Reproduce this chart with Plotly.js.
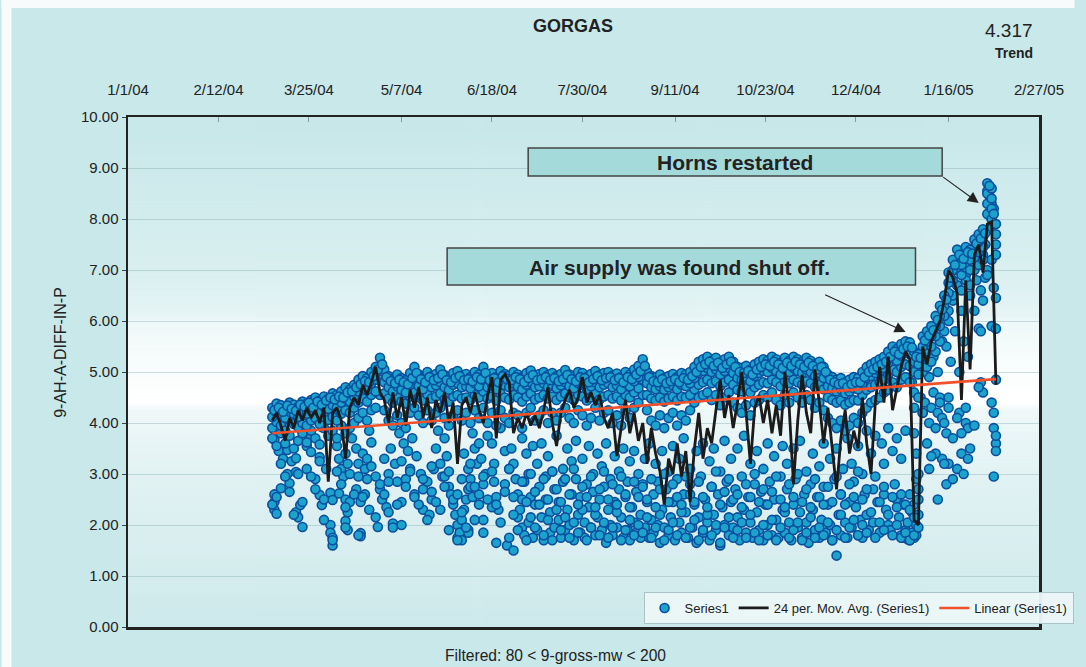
<!DOCTYPE html>
<html><head><meta charset="utf-8">
<script src="https://cdn.plot.ly/plotly-3.0.1.min.js"></script>
<style>html,body{margin:0;padding:0;background:#fff;}#chart{width:1086px;height:667px;}</style>
</head><body><div id="chart"></div>
<script>
// ---- X axis: days since 1/1/04 ----
const tickLabels = ['1/1/04','2/12/04','3/25/04','5/7/04','6/18/04','7/30/04','9/11/04','10/23/04','12/4/04','1/16/05','2/27/05'];
const tickDays   = [0, 42, 84, 127, 169, 211, 254, 296, 338, 381, 423];

// ---- Series1: readings sampled every 2 days from day 67 (3/8/04); null = no reading ----
const BAND_START = 67, CREST_START = 68, BAND_STEP = 2;
const bandTop = [
 4.30,4.38,4.35,4.28,4.40,4.36,4.32,
 4.42,4.38,4.45,4.50,4.44,4.52,4.48,
 4.58,4.55,4.62,4.70,4.66,4.75,
 4.85,4.92,4.88,5.00,5.10,
 5.28,
 5.05,4.92,4.86,4.95,4.88,4.84,4.98,5.10,
 4.95,4.90,5.00,4.92,4.96,5.05,4.94,4.90,4.98,5.02,4.93,4.96,4.90,
 5.00,4.95,5.10,4.92,4.98,4.90,5.02,4.96,4.93,5.00,4.95,4.90,4.98,5.03,4.92,4.96,5.00,4.94,4.98,4.92,
 4.96,5.04,4.95,4.92,5.00,4.98,4.90,4.96,5.02,4.94,4.98,5.00,4.93,4.97,4.90,5.00,4.95,5.05,5.12,
 5.25,
 5.00,4.92,4.90,4.95,4.88,4.92,4.96,4.90,4.98,4.95,5.00,
 5.10,5.20,5.25,5.30,5.22,5.28,5.18,5.25,5.30,5.20,
 5.10,5.08,5.12,5.05,5.15,5.20,5.25,
 5.22,5.30,5.25,5.18,5.28,5.22,5.30,5.25,5.20,5.28,5.22,5.15,5.20,5.10,
 4.95,4.90,4.85,4.88,4.80,4.85,4.90,4.88,
 5.00,5.10,5.15,5.20,5.25,5.30,
 5.40,5.50,5.45,5.55,5.60,5.58,
 5.40,5.35,
 5.70,5.80,5.90,
 6.10,6.30,6.50,
 6.95,7.20,7.40,
 7.30,7.45,7.40,7.60,
 7.70,7.80,
 8.70,8.60,7.90];
// crest readings: the in-between days (from day 68)
const bandCrest = [
 4.25,4.30,4.22,4.34,4.28,4.24,4.36,
 4.32,4.40,4.30,4.42,4.36,4.44,4.50,
 4.46,4.52,4.50,4.60,4.62,4.70,
 4.76,4.82,4.80,4.92,5.05,
 5.15,
 4.90,4.82,4.78,4.85,4.80,4.76,4.88,4.98,
 4.86,4.80,4.90,4.84,4.88,4.95,4.84,4.80,4.88,4.92,4.84,4.86,4.82,
 4.90,4.86,4.98,4.84,4.88,4.80,4.92,4.86,4.84,4.90,4.86,4.80,4.88,4.94,4.84,4.86,4.90,4.84,4.88,4.82,
 4.86,4.94,4.86,4.82,4.90,4.88,4.80,4.86,4.92,4.84,4.88,4.90,4.84,4.88,4.80,4.90,4.86,4.95,5.02,
 5.12,
 4.90,4.82,4.80,4.86,4.78,4.82,4.86,4.80,4.88,4.85,4.92,
 5.00,5.10,5.15,5.20,5.12,5.18,5.08,5.15,5.20,5.10,
 5.00,4.98,5.02,4.95,5.05,5.10,5.15,
 5.12,5.20,5.15,5.08,5.18,5.12,5.20,5.15,5.10,5.18,5.12,5.05,5.10,5.00,
 4.85,4.80,4.76,4.78,4.70,4.76,4.80,4.80,
 4.90,5.00,5.05,5.10,5.15,5.20,
 5.30,5.40,5.35,5.45,5.50,5.48,
 5.30,5.28,
 5.62,5.72,5.82,
 6.02,6.22,6.42,
 6.85,7.10,7.30,
 7.22,7.35,7.32,7.52,
 7.62,7.72,
 8.65,8.10];
const bandMid = [
 4.12,4.20,4.15,4.10,4.22,4.18,4.12,
 4.22,4.18,4.25,4.30,4.20,4.32,4.28,
 4.35,4.30,4.40,4.48,4.42,4.52,
 4.62,4.70,4.65,4.78,4.85,
 5.05,
 4.80,4.70,4.62,4.72,4.65,4.60,4.75,4.85,
 4.72,4.66,4.78,4.70,4.74,4.80,4.70,4.65,4.75,4.78,4.70,4.72,4.68,
 4.78,4.72,4.85,4.70,4.75,4.66,4.80,4.74,4.70,4.78,4.72,4.66,4.75,4.80,4.70,4.72,4.78,4.70,4.75,4.68,
 4.74,4.80,4.72,4.68,4.78,4.75,4.66,4.72,4.80,4.70,4.75,4.78,4.70,4.74,4.66,4.78,4.72,4.82,4.90,
 5.05,
 4.78,4.70,4.66,4.72,4.65,4.70,4.74,4.66,4.75,4.72,4.78,
 4.88,4.98,5.02,5.08,5.00,5.05,4.95,5.02,5.08,4.98,
 4.88,4.85,4.90,4.82,4.92,4.98,5.02,
 5.00,5.08,5.02,4.95,5.05,5.00,5.08,5.02,4.98,5.05,5.00,4.92,4.98,4.88,
 4.72,4.68,4.62,4.66,4.58,4.62,4.68,4.66,
 4.78,4.88,4.92,4.98,5.02,5.08,
 5.18,5.28,5.22,5.32,5.38,5.35,
 5.20,5.15,
 5.50,5.60,5.70,
 5.90,6.10,6.30,
 6.75,7.00,7.20,
 7.10,7.25,7.20,7.45,
 7.55,7.65,
 8.50,8.40,7.70];
const bandLow = [
 3.90,4.02,3.95,3.85,4.05,3.98,3.92,
 4.00,3.95,4.05,4.10,3.98,4.12,4.06,
 4.12,4.05,4.18,4.25,4.20,4.30,
 4.40,4.48,4.42,4.55,4.62,
 4.85,
 4.58,4.48,4.40,4.50,4.42,4.38,4.52,4.62,
 4.50,4.44,4.56,4.48,4.52,4.58,4.46,4.42,4.52,4.55,4.48,4.50,4.45,
 4.55,4.50,4.62,4.48,4.52,4.44,4.58,4.50,4.46,4.55,4.50,4.42,4.52,4.58,4.46,4.50,4.55,4.48,4.52,4.45,
 4.52,4.58,4.50,4.45,4.55,4.52,4.44,4.50,4.58,4.46,4.52,4.55,4.48,4.52,4.44,4.55,4.50,4.60,4.68,
 4.85,
 4.55,4.48,4.44,4.50,4.42,4.48,4.52,4.44,4.52,4.50,4.55,
 4.66,4.75,4.80,4.85,4.78,4.82,4.72,4.80,4.85,4.75,
 4.65,4.62,4.68,4.60,4.70,4.75,4.80,
 4.78,4.85,4.80,4.72,4.82,4.78,4.85,4.80,4.75,4.82,4.78,4.70,4.75,4.66,
 4.50,4.45,4.40,4.44,4.36,4.40,4.45,4.44,
 4.55,4.65,4.70,4.75,4.80,4.85,
 4.95,5.05,5.00,5.10,5.15,5.12,
 5.00,4.95,
 5.30,5.40,5.50,
 5.70,5.90,6.10,
 6.55,6.80,7.00,
 6.90,7.05,7.00,7.25,
 7.35,7.45,
 8.30,8.20,7.50];
const bandSub = [
 3.70,3.55,3.80,3.60,3.75,3.50,3.65,
 3.80,3.62,3.85,3.70,3.58,3.90,3.75,
 3.85,3.70,3.95,3.80,3.90,4.00,
 4.10,4.20,4.05,4.25,4.30,
 4.55,
 4.25,4.05,3.95,4.15,4.00,3.90,4.20,4.30,
 4.15,4.00,4.25,4.05,4.20,4.30,4.10,3.95,4.15,4.25,4.05,4.20,4.00,
 4.25,4.10,4.30,4.00,4.20,3.95,4.25,4.10,4.00,4.20,4.15,3.90,4.20,4.30,4.05,4.15,4.25,4.00,4.20,4.05,
 4.20,4.30,4.10,4.00,4.25,4.15,3.95,4.10,4.30,4.05,4.20,4.25,4.00,4.15,3.95,4.25,4.10,4.30,4.40,
 4.55,
 4.25,4.05,3.95,4.15,3.90,4.10,4.20,3.95,4.15,4.05,4.25,
 4.40,4.50,4.55,4.60,4.45,4.55,4.35,4.50,4.60,4.40,
 4.30,4.20,4.35,4.15,4.40,4.45,4.55,
 4.50,4.60,4.45,4.35,4.55,4.40,4.60,4.50,4.40,4.55,4.45,4.30,4.40,4.25,
 4.10,4.00,3.90,4.05,3.85,3.95,4.10,4.00,
 4.20,4.30,4.40,4.45,4.50,4.60,
 4.65,4.80,4.70,4.85,4.90,4.80,
 4.60,4.50,
 5.00,5.10,5.20,
 5.40,5.60,5.80,
 6.20,6.50,6.70,
 6.60,6.80,6.70,7.00,
 7.10,7.20,
 8.10,8.00,7.30];
const floorA = [
 2.40,null,null,2.95,null,2.20,null,
 null,3.10,null,2.70,null,2.10,null,
 1.70,null,2.80,1.95,null,2.60,
 1.80,null,2.90,null,2.15,
 null,
 2.60,null,1.95,null,2.45,null,3.05,null,
 2.40,null,2.10,2.65,null,2.30,2.95,1.90,2.50,1.70,2.25,1.95,2.75,
 2.10,2.60,1.85,null,2.35,1.65,2.05,2.80,1.75,2.20,1.90,2.50,1.70,2.15,1.95,2.40,1.80,2.10,1.70,2.30,
 1.90,2.15,1.75,2.05,1.85,2.30,1.70,1.95,2.20,1.80,2.05,1.75,1.95,2.25,1.70,1.90,2.10,1.80,2.00,
 1.85,
 2.15,1.75,1.95,2.20,1.70,1.90,2.05,1.80,2.25,1.75,1.95,
 2.10,1.70,1.90,2.20,1.80,2.00,1.65,1.95,2.15,1.75,
 1.90,2.05,1.75,2.20,1.85,1.70,2.00,
 1.80,2.10,1.70,1.95,2.25,1.75,1.90,2.05,1.70,1.85,2.15,1.75,1.95,1.80,
 2.05,1.70,1.90,2.20,1.75,1.95,2.10,1.80,
 2.00,1.85,2.25,1.75,2.05,1.90,
 2.20,1.80,2.00,1.75,1.85,1.70,
 1.80,1.95,
 null,3.60,null,
 3.40,null,4.00,
 null,3.70,null,
 3.80,null,3.50,null,
 null,null,
 null,null,3.75];
const floorB = [
 null,2.55,3.20,null,2.65,null,3.00,
 2.45,null,2.95,null,3.25,2.50,null,
 null,3.05,null,2.35,3.00,null,
 2.95,2.55,null,3.15,null,
 2.80,
 null,2.85,null,2.40,null,2.75,null,2.55,
 null,2.90,null,3.15,2.45,null,2.75,3.05,null,2.60,2.90,null,3.20,
 2.75,null,2.95,2.50,3.05,2.40,null,2.65,3.10,2.55,null,2.85,2.45,3.00,2.65,null,2.90,2.50,3.05,2.70,
 2.45,2.90,2.60,3.10,2.40,2.75,2.55,2.95,2.35,2.70,3.05,2.50,2.80,2.40,2.95,2.60,2.35,2.85,2.55,
 2.75,
 2.50,2.90,2.35,2.70,3.00,2.45,2.80,2.55,2.40,2.95,2.60,
 2.45,2.85,2.55,2.35,2.75,3.05,2.40,2.65,2.90,2.50,
 2.60,2.35,2.80,2.55,3.00,2.45,2.70,
 2.40,2.65,2.95,2.50,2.35,2.80,2.55,3.00,2.45,2.70,2.35,2.90,2.55,2.40,
 2.75,2.45,2.95,2.60,2.40,2.80,2.55,3.05,
 2.50,2.70,null,2.95,2.45,2.75,
 null,2.55,2.35,2.60,2.40,2.30,
 2.15,2.50,
 4.20,null,3.35,
 null,4.40,3.20,
 4.50,null,4.10,
 null,4.30,null,3.95,
 4.70,6.40,
 6.90,7.20,null];

// ---- Series1: scattered low readings [day, value] ----
const lowMarApr = [[68,3.67],[68,2.60],[68,2.45],[68,2.30],[69,2.22],[70,3.45],[71,2.72],[72,3.30],[74,3.47],[74,3.00],[75,2.82],[76,3.25],[78,3.31],[78,3.04],[78,2.25],[79,2.15],[80,2.39],[81,1.96],[83,3.55],[85,3.73],[85,3.43],[87,2.90],[89,3.33],[89,2.59],[90,2.39],[90,3.92],[92,3.10],[94,2.63],[94,2.00],[94,1.85],[95,1.75],[95,1.60],[95,2.49],[97,3.55],[98,3.30],[98,2.62],[99,3.10],[100,2.95],[101,3.40],[101,2.50],[101,2.08],[102,1.90],[102,2.25],[102,3.20],[103,2.45],[104,3.70],[106,3.50],[106,2.70],[107,3.20],[108,2.45],[108,1.84],[108,1.78],[109,3.40],[110,3.10],[110,2.60],[111,3.30],[112,2.30],[112,3.85],[113,3.62],[115,2.95],[116,1.96],[117,2.70],[118,2.50],[119,3.30],[120,2.35],[121,3.00],[121,2.25]];
const lowMayJun = [[122,3.50],[123,2.03],[124,3.20],[125,2.85],[126,3.80],[127,2.00],[127,3.25],[128,3.60],[129,2.90],[130,3.45],[131,3.10],[132,3.70],[133,2.60],[134,3.35],[136,3.00],[137,2.70],[137,2.30],[139,2.85],[140,2.20],[141,2.50],[142,3.10],[143,3.50],[144,3.85],[145,3.20],[146,2.95],[147,3.70],[148,3.35],[149,2.75],[150,2.60],[151,2.40],[152,2.20],[153,2.00],[153,1.75],[154,1.85],[155,1.70],[155,2.10],[156,2.30],[156,3.40],[157,2.50],[158,1.90],[158,3.10],[158,2.70],[158,1.85],[159,2.90],[160,3.80],[160,2.55],[161,3.50],[162,3.20],[163,3.60],[163,2.40],[164,3.30],[165,2.80],[165,2.10],[166,3.00],[167,3.75],[169,3.60],[170,3.20],[170,2.85],[171,2.55],[172,2.30],[173,3.90],[175,3.45],[176,1.60],[177,3.10],[178,3.50],[179,1.50],[179,3.20],[180,2.90],[181,2.60],[181,2.15]];
const lowJulAug = [[182,2.30],[183,3.70],[183,1.95],[184,2.85],[184,1.80],[185,3.40],[186,2.05],[186,3.00],[187,2.55],[188,1.75],[188,3.55],[189,2.40],[190,3.20],[190,1.90],[191,2.75],[192,3.60],[192,2.15],[193,1.70],[194,2.95],[194,2.50],[195,3.35],[196,1.85],[196,2.25],[197,3.05],[198,2.70],[198,1.95],[199,3.75],[200,2.10],[200,2.45],[201,1.75],[202,3.10],[202,2.85],[203,1.90],[204,3.50],[204,2.30],[205,2.00],[206,3.25],[206,2.60],[207,1.70],[208,2.90],[208,3.65],[209,2.20],[210,1.85],[210,2.55],[211,3.30],[212,1.75],[212,2.05],[213,2.80],[214,3.55],[214,2.35],[215,1.95],[216,3.00],[216,2.65],[217,1.80],[218,3.40],[218,2.15],[219,2.50],[220,1.90],[220,3.15],[221,2.75],[222,1.65],[222,3.60],[223,2.30],[224,2.00],[224,2.90],[225,1.80],[226,3.35],[226,2.45],[227,1.95],[228,2.70],[228,3.05],[229,2.15],[230,1.75],[230,3.50],[231,2.55],[232,1.90],[232,2.85],[233,3.25],[233,1.70],[234,2.35],[235,2.05],[235,3.45],[236,2.65],[236,1.85],[237,3.00],[238,2.20],[238,1.75],[239,2.80],[240,3.30],[240,1.95],[241,2.45],[242,1.75],[242,3.60],[243,2.10]];
const lowSepOct = [[244,2.60],[244,1.85],[245,3.20],[246,2.00],[246,2.85],[247,1.65],[248,3.45],[248,2.30],[249,1.95],[250,2.70],[251,3.05],[251,1.80],[252,2.15],[253,3.55],[253,2.45],[254,1.70],[255,2.90],[256,2.05],[256,3.30],[257,1.85],[258,2.60],[258,3.70],[259,2.25],[260,1.75],[261,3.10],[261,2.80],[262,1.95],[263,2.40],[264,3.45],[264,1.65],[265,2.15],[266,2.95],[267,1.85],[267,3.60],[268,2.50],[269,2.05],[270,3.25],[270,1.70],[271,2.75],[272,2.20],[272,3.50],[273,1.90],[274,2.60],[275,3.05],[275,1.60],[276,2.35],[277,3.65],[277,2.00],[278,2.85],[279,1.80],[280,3.30],[280,2.45],[281,1.95],[282,2.70],[283,3.50],[283,2.15],[284,1.70],[285,2.95],[286,2.30],[286,3.75],[287,1.85],[288,2.55],[289,3.20],[289,2.05],[290,1.75],[291,2.80],[292,3.45],[292,2.25],[293,1.90],[294,2.65],[295,3.10],[295,1.70],[296,2.40],[297,3.60],[297,2.00],[298,2.85],[299,1.80],[300,3.35],[300,2.50],[301,2.10],[302,1.75],[303,2.95],[304,2.30],[304,3.55]];
const lowNovDec = [[305,1.85],[306,2.70],[306,3.20],[307,2.05],[308,1.70],[309,3.50],[309,2.40],[310,2.90],[311,1.95],[312,2.25],[312,3.65],[313,1.75],[314,2.60],[315,3.05],[315,2.05],[316,1.65],[317,2.80],[318,3.40],[318,2.30],[319,1.90],[320,2.55],[321,3.15],[321,1.75],[322,2.10],[323,3.60],[323,2.75],[324,1.85],[325,2.40],[326,3.30],[326,2.00],[327,1.70],[328,2.90],[329,1.40],[329,3.50],[330,2.20],[331,2.60],[331,1.80],[332,3.10],[333,2.05],[334,1.75],[334,3.70],[335,2.45],[336,3.20],[336,1.95],[337,2.85],[338,2.35],[339,1.80],[339,3.55],[340,2.10],[341,3.00],[341,1.75],[342,2.60],[343,3.85],[343,2.20],[344,1.90],[345,3.40],[346,2.70],[346,2.05],[347,3.75],[348,2.45],[349,1.85],[350,3.60],[351,2.60],[351,3.20],[352,2.30],[353,2.00],[353,3.90],[354,1.90],[355,3.45],[356,2.80],[357,2.50],[357,3.70],[358,2.15],[359,1.80],[359,3.30],[360,1.75],[360,2.40],[361,1.90],[361,3.85],[362,2.05],[362,1.72],[363,1.70],[363,2.60],[364,1.85],[364,2.25],[364,4.80],[365,1.75],[365,2.40],[365,4.30],[365,3.80],[366,2.00],[366,1.80],[366,2.90],[366,3.40],[367,2.20],[367,2.70],[367,3.00]];
const lowJanFeb = [[368,4.50],[369,4.20],[370,4.40],[370,5.20],[371,5.50],[372,4.00],[372,3.10],[372,4.90],[373,4.30],[373,5.70],[374,4.60],[374,5.30],[375,3.90],[375,5.90],[376,4.20],[376,2.50],[376,5.00],[377,4.50],[377,6.10],[378,4.10],[378,3.30],[378,5.60],[379,6.20],[380,3.80],[380,2.80],[380,5.50],[381,4.30],[381,3.20],[381,6.00],[382,5.20],[383,2.90],[383,6.40],[384,5.80],[385,3.10],[385,6.70],[386,4.20],[386,5.00],[387,3.40],[387,6.20],[388,3.00],[388,5.60],[389,4.00],[389,6.90],[390,3.90],[390,3.30],[390,5.30],[391,6.50],[392,7.00],[393,6.20],[394,6.80],[395,5.85],[395,7.10],[396,5.80],[396,4.80],[396,6.60],[397,4.60],[397,7.30],[398,7.50],[398,6.85],[399,7.00],[399,8.55],[400,7.80],[400,8.45],[401,8.00],[401,8.30],[401,4.40],[401,5.90],[402,8.20],[402,4.20],[402,3.90],[402,2.95],[402,6.65],[403,3.60],[403,3.45],[403,6.45],[403,5.85],[403,4.85]];

// ---- 24 per. Mov. Avg. (Series1), every 2 days from day 67 ----
const movAvg = [
 4.05,4.20,3.95,3.65,4.10,3.90,4.25,4.05,4.30,4.10,
 4.25,4.00,4.30,2.85,4.20,4.30,4.05,3.30,4.30,4.50,
 4.35,4.75,4.55,4.80,5.10,4.60,4.45,4.00,4.60,4.10,
 4.50,3.95,4.65,4.30,4.70,4.10,4.50,3.90,4.45,4.20,
 4.60,4.00,4.40,3.20,4.35,4.50,4.20,4.60,4.25,4.00,
 4.55,4.90,3.70,4.85,4.95,4.80,3.80,4.10,3.90,4.20,
 3.95,4.15,3.90,4.25,4.70,4.00,3.55,4.20,4.45,4.65,
 4.30,4.50,4.90,4.40,4.60,4.35,4.55,4.10,3.90,4.20,
 3.35,3.95,4.45,3.80,4.20,3.65,4.00,3.20,3.90,3.40,
 3.05,2.40,3.30,3.00,3.60,2.95,3.45,2.45,3.50,4.20,
 3.30,3.90,3.60,4.25,4.85,4.10,4.55,3.90,4.40,5.00,
 4.20,3.20,4.30,4.55,4.00,4.45,3.80,4.35,3.75,5.00,
 4.30,2.80,4.05,4.95,4.20,3.80,5.05,4.40,3.60,4.30,
 3.55,2.70,3.70,4.25,3.40,3.85,3.50,4.50,3.60,3.00,
 4.40,5.10,4.40,5.30,4.25,4.70,5.10,5.40,5.25,2.10,
 2.00,5.50,5.15,5.60,5.80,6.00,6.40,7.00,6.85,6.55,
 4.45,6.80,5.05,7.30,7.50,6.95,7.90,7.95,4.75];

// ---- Linear (Series1) trend end points ----
const trendDays = [67, 403];
const trendVals = [3.80, 4.86];

// ---- build traces ----
const dayGrid = (arr, start) => arr.map((_, i) => (start === undefined ? BAND_START : start) + BAND_STEP * i);
const lows = [].concat(lowMarApr, lowMayJun, lowJulAug, lowSepOct, lowNovDec, lowJanFeb);
const gridSets = [floorA, floorB, bandSub, bandLow, bandMid, bandTop];
const sx = [].concat(lows.map(p => p[0]), ...gridSets.map(a => dayGrid(a)), dayGrid(bandCrest, CREST_START));
const sy = [].concat(lows.map(p => p[1]), ...gridSets, bandCrest);

const FONT = 'Liberation Sans, Arial, Helvetica, sans-serif';
const traces = [
  {type:'scatter', mode:'markers', name:'Series1', x:sx, y:sy,
   marker:{size:9, color:'#1ca3cd', line:{color:'#0a4f9e', width:1.6}}},
  {type:'scatter', mode:'lines', name:'24 per. Mov. Avg. (Series1)', x:dayGrid(movAvg), y:movAvg,
   line:{color:'#1b1b1b', width:2.8}},
  {type:'scatter', mode:'lines', name:'Linear (Series1)', x:trendDays, y:trendVals,
   line:{color:'#f0502a', width:2.6}}
];

function gradientImage(){
  const c = document.createElement('canvas'); c.width = 4; c.height = 510;
  const g = c.getContext('2d'); const lg = g.createLinearGradient(0,0,0,510);
  lg.addColorStop(0.00,'#c7e7e9'); lg.addColorStop(0.30,'#d9eff0');
  lg.addColorStop(0.39,'#e6f4f5'); lg.addColorStop(0.40,'#eef8f8');
  lg.addColorStop(0.50,'#fafdfd'); lg.addColorStop(0.56,'#ffffff');
  lg.addColorStop(0.575,'#eff8f8'); lg.addColorStop(0.70,'#e2f2f3');
  lg.addColorStop(1.00,'#cde9eb');
  g.fillStyle = lg; g.fillRect(0,0,4,510); return c.toDataURL('image/png');
}

const W = 922, H = 510, L = 128, T = 117;
const px = v => (v - L) / W;          // page x -> paper x
const py = v => (T + H - v) / H;      // page y -> paper y
const txt = (x, y, text, size, extra) => Object.assign({xref:'paper', yref:'paper', x:px(x), y:py(y), text:text,
  showarrow:false, xanchor:'center', yanchor:'middle', font:{size:size, family:FONT, color:'#222'}}, extra || {});

const layout = {
  width:1086, height:667,
  margin:{l:128, r:36, t:117, b:40},
  paper_bgcolor:'#c8e8ea', plot_bgcolor:'rgba(0,0,0,0)',
  font:{family:FONT, color:'#222'},
  showlegend:true,
  xaxis:{type:'linear', range:[0,423], side:'top', tickmode:'array', tickvals:tickDays, ticktext:tickLabels,
    ticks:'inside', ticklen:5, tickcolor:'#8a9a9c', tickwidth:1, ticklabelstandoff:14,
    showline:true, linecolor:'#222', linewidth:2.5, mirror:true, showgrid:false, zeroline:false,
    tickfont:{size:15, color:'#222', family:FONT}, fixedrange:true},
  yaxis:{range:[0,10], tick0:0, dtick:1, tickformat:'.2f', ticks:'outside', ticklen:4, tickcolor:'#444',
    showline:true, linecolor:'#222', linewidth:2.5, mirror:true, showgrid:true,
    gridcolor:'rgba(130,170,175,0.40)', gridwidth:1, zeroline:false,
    tickfont:{size:15, color:'#222', family:FONT}, fixedrange:true},
  legend:{orientation:'h', x:px(1085), y:py(592), xanchor:'right', yanchor:'top', itemwidth:30,
    bgcolor:'rgba(236,246,247,0.96)', bordercolor:'#a9c3c6', borderwidth:1,
    font:{size:13, family:FONT, color:'#222'}},
  images:[{source:gradientImage(), xref:'paper', yref:'paper', x:0, y:1, sizex:1, sizey:1,
    sizing:'stretch', xanchor:'left', yanchor:'top', layer:'below'}],
  shapes:[
    {type:'rect', xref:'paper', yref:'paper', x0:px(0), x1:px(1086), y0:py(8), y1:py(0), fillcolor:'#f7fbfb', line:{width:0}, layer:'below'},
    {type:'rect', xref:'paper', yref:'paper', x0:px(0), x1:px(10), y0:py(667), y1:py(0), fillcolor:'#f7fbfb', line:{width:0}, layer:'below'},
    {type:'rect', xref:'paper', yref:'paper', x0:px(533), x1:px(952), y0:py(176), y1:py(148), fillcolor:'#a5dadb', line:{color:'#444', width:1.5}},
    {type:'rect', xref:'paper', yref:'paper', x0:px(451), x1:px(925), y0:py(285), y1:py(248), fillcolor:'#a5dadb', line:{color:'#444', width:1.5}}
  ],
  annotations:[
    txt(578, 26, '<b>GORGAS</b>', 18),
    txt(1020, 31, '4.317', 19),
    txt(1025, 53, '<b>Trend</b>', 14),
    txt(59, 352, '9-AH-A-DIFF-IN-P', 16, {textangle:-90}),
    txt(561, 655, 'Filtered: 80 &lt; 9-gross-mw &lt; 200', 15.6),
    txt(742, 162, '<b>Horns restarted</b>', 21),
    txt(686, 267, '<b>Air supply was found shut off.</b>', 21),
    {xref:'paper', yref:'paper', x:px(989), y:py(203), text:'', ax:-37, ay:-27, showarrow:true, arrowhead:2, arrowsize:2, arrowwidth:1.1, arrowcolor:'#222', standoff:0},
    {xref:'paper', yref:'paper', x:px(915), y:py(332), text:'', ax:-82, ay:-38, showarrow:true, arrowhead:2, arrowsize:2, arrowwidth:1.1, arrowcolor:'#222', standoff:0}
  ]
};

Plotly.newPlot('chart', traces, layout, {displayModeBar:false, staticPlot:true});
</script></body></html>
